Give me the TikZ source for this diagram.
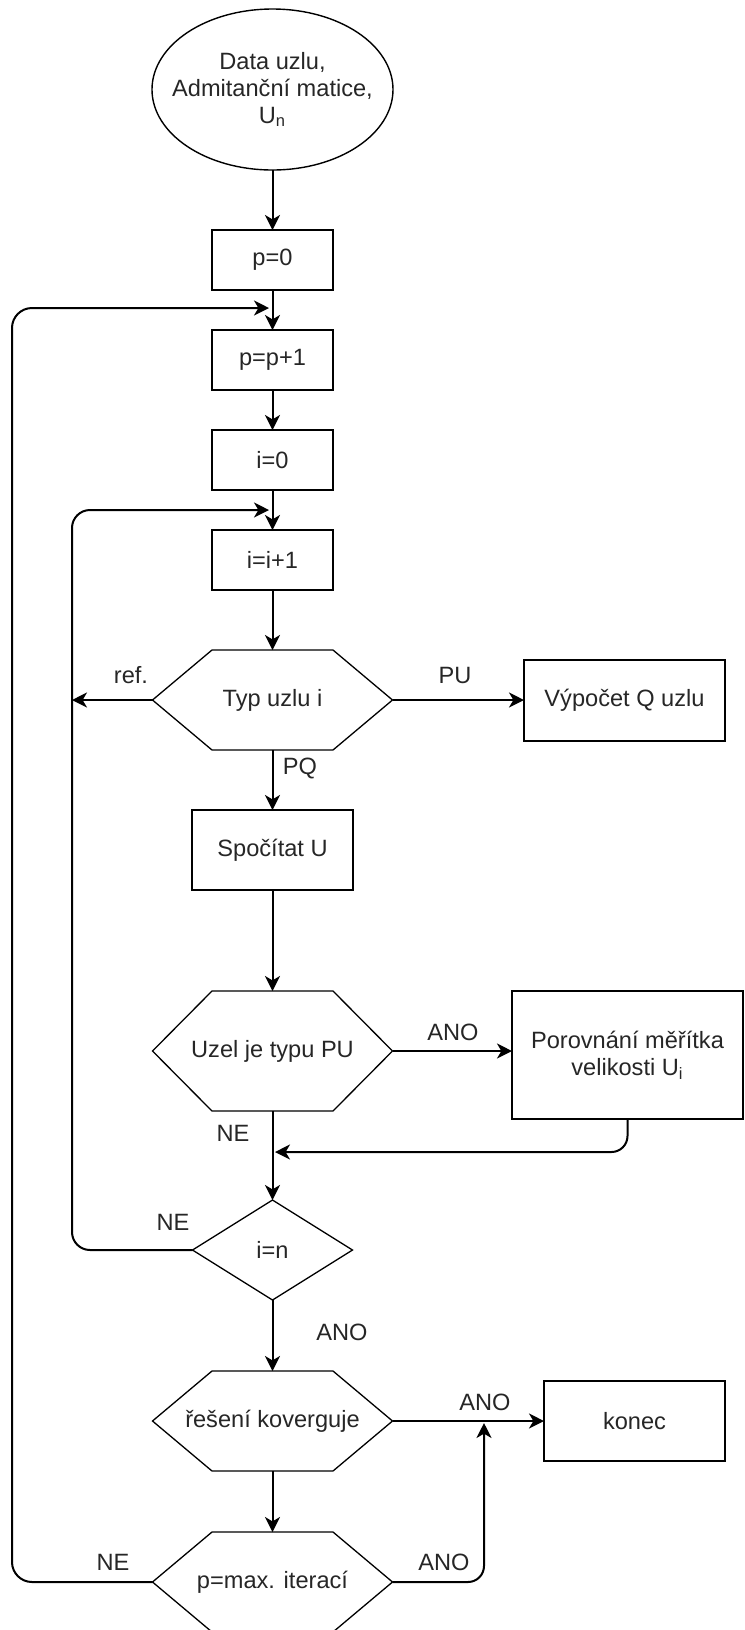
\documentclass[tikz,border=0pt]{standalone}
\usepackage{fontspec}
\setmainfont{Liberation Sans}
\usetikzlibrary{arrows.meta,calc,shapes.geometric}
\newcommand\drawhexagon[2]{\draw[shapeline] (#1.west) -- ([xshift=#2]#1.north west) -- ([xshift=-#2]#1.north east) -- (#1.east) -- ([xshift=-#2]#1.south east) -- ([xshift=#2]#1.south west) -- cycle;}
\begin{document}
\begin{tikzpicture}[x=0.5pt,y=-0.5pt,
  every node/.style={font=\fontsize{11.8}{13.5}\selectfont, text=black!85},
  box/.style={draw, line width=1pt, rectangle, outer sep=0pt, inner sep=0pt, align=center},
  shapebox/.style={rectangle, outer sep=0pt, inner sep=0pt, align=center},
  shapeline/.style={line width=0.65pt},
  conn/.style={line width=1pt, -{Stealth[length=7.5pt,width=7.5pt,inset=2.2pt]}},
  lbl/.style={inner sep=0pt}
]
\useasboundingbox (0,0) rectangle (745,1630);

% nodes
\node[shapebox, minimum width=120.5pt, minimum height=80.5pt] (start) at (272.5,89.5) {Data uzlu,\\Admitanční matice,\\U\textsubscript{n}};
\node[box, minimum width=60.5pt, minimum height=30pt] (p0) at (272.5,260) {p=0};
\node[box, minimum width=60.5pt, minimum height=30pt] (pp1) at (272.5,360) {p=p+1};
\node[box, minimum width=60.5pt, minimum height=30pt] (i0) at (272.5,460) {i=0};
\node[box, minimum width=60.5pt, minimum height=30pt] (ii1) at (272.5,560) {i=i+1};
\node[shapebox, minimum width=120pt, minimum height=50pt] (typ) at (272.5,700) {Typ uzlu i};
\node[box, minimum width=100.5pt, minimum height=40.5pt] (vyp) at (624.5,700) {Výpočet Q uzlu};
\node[box, minimum width=80.5pt, minimum height=40pt] (spo) at (272.5,850) {Spočítat U};
\node[shapebox, minimum width=120pt, minimum height=60pt] (uzel) at (272.5,1051) {Uzel je typu PU};
\node[box, minimum width=115.5pt, minimum height=64pt] (por) at (627.5,1055) {Porovnání měřítka\\velikosti U\textsubscript{i}};
\node[shapebox, minimum width=80pt, minimum height=50pt] (in) at (272.5,1250) {i=n};
\node[shapebox, minimum width=120pt, minimum height=50pt] (res) at (272.5,1421) {řešení koverguje};
\node[box, minimum width=90.5pt, minimum height=40pt] (kon) at (634.5,1421) {konec};
\node[shapebox, minimum width=120pt, minimum height=50pt] (pmax) at (272.5,1582) {p=max. iterací};

% shape outlines
\draw[line width=0.7pt] (start.center) ellipse [x radius=60.25pt, y radius=40.25pt];
\drawhexagon{typ}{29.75pt}
\drawhexagon{uzel}{29.75pt}
\drawhexagon{res}{29.75pt}
\drawhexagon{pmax}{29.75pt}
\draw[shapeline] (in.west) -- (in.north) -- (in.east) -- (in.south) -- cycle;

% helper coordinates
\coordinate (outerL) at (12,308);
\coordinate (outerT) at (269,308);
\coordinate (innerL) at (72,510);
\coordinate (innerT) at (269,510);
\coordinate (merge) at (275,1152);
\coordinate (rj) at (484,1423);

% connectors
\draw[conn] (start.south) -- (p0);
\draw[conn] (p0) -- (pp1);
\draw[conn] (pp1) -- (i0);
\draw[conn] (i0) -- (ii1);
\draw[conn] (ii1) -- (typ);
\draw[conn] (typ.east) -- (typ.east -| vyp.west);
\draw[conn] (typ.west) -- (typ.west -| innerL);
\draw[conn] (typ) -- (spo);
\draw[conn] (spo) -- (uzel);
\draw[conn] (uzel.east) -- (uzel.east -| por.west);
\draw[conn] (uzel) -- (in);
\draw[conn, rounded corners=8pt] (por.south) |- (merge);
\draw[conn, rounded corners=9pt] (in.west) -| (innerL) -- (innerT);
\draw[conn] (in) -- (res);
\draw[conn] (res.east) -- (res.east -| kon.west);
\draw[conn] (res) -- (pmax);
\draw[conn, rounded corners=8pt] (pmax.east) -| (rj);
\draw[conn, rounded corners=10pt] (pmax.west) -| (outerL) -- (outerT);

% labels
\node[lbl] (lref) at (131,675) {ref.};
\node[lbl] (lpu) at (455,675) {PU};
\node[lbl] (lpq) at (300,768) {PQ};
\node[lbl] (lano1) at (453,1032) {ANO};
\node[lbl] (lne1) at (233,1133) {NE};
\node[lbl] (lne2) at (173,1222) {NE};
\node[lbl] (lano2) at (342,1332) {ANO};
\node[lbl] (lano3) at (485,1402) {ANO};
\node[lbl] (lne3) at (113,1562) {NE};
\node[lbl] (lano4) at (444,1562) {ANO};
\end{tikzpicture}
\end{document}
